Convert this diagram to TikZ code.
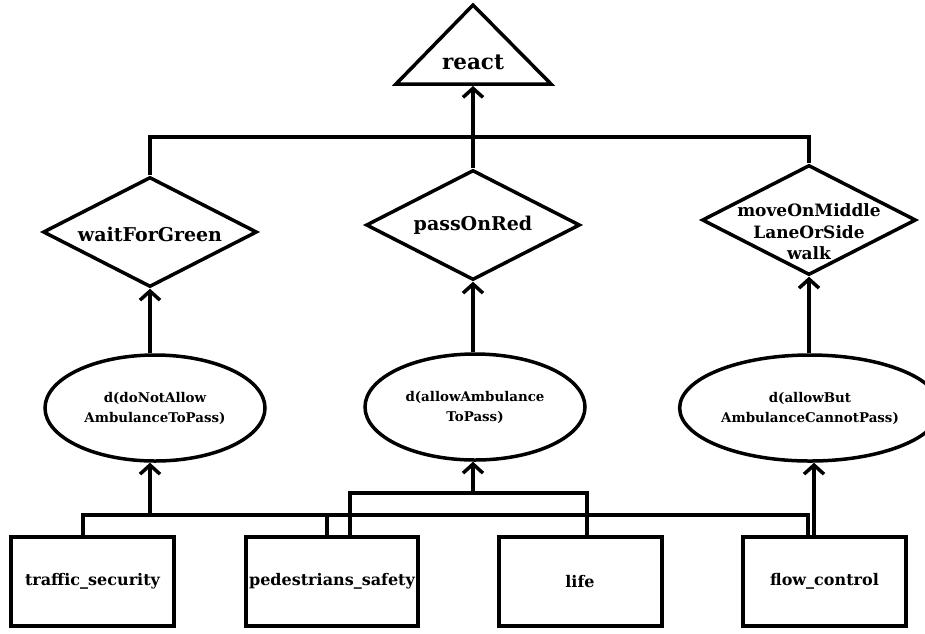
\documentclass[tikz,border=0pt]{standalone}
\usepackage{fontspec}
\setmainfont{DejaVu Serif}
\usetikzlibrary{shapes.geometric,arrows.meta}

\tikzset{
  link/.style={line width=3.5pt},
  arr/.style={line width=3.5pt,-{Straight Barb[length=9pt,width=20pt]}},
  goal/.style={draw,line width=3.5pt,diamond,minimum width=214pt,minimum height=110pt,inner sep=0pt},
  goaltext/.style={align=center,inner sep=0pt,font=\bfseries\fontsize{19}{22}\selectfont},
  desire/.style={draw,line width=3.5pt,ellipse,minimum width=220pt,minimum height=106pt,align=center,font=\bfseries\fontsize{13.4}{20}\selectfont},
  belief/.style={draw,line width=4pt,rectangle,minimum width=163pt,minimum height=89pt,font=\bfseries\fontsize{16}{19}\selectfont},
}

\begin{document}
\begin{tikzpicture}[x=1pt,y=-1pt]
    \useasboundingbox (0,0) rectangle (925,633);
    % top: react
    \draw[line width=3.5pt] (473,5) -- (551,84) -- (396,84) -- cycle;
    \node[font=\bfseries\fontsize{21.5}{24}\selectfont,inner sep=0pt] (react) at (473,62) {react};
    \coordinate (reactbase) at (473,86);
    % goals
    \node[goal] (wait) at (150,232) {};
    \node[goaltext] (waittxt) at ([yshift=-2pt]wait.center) {waitForGreen};
    \node[goal] (pass) at (473,225) {};
    \node[goaltext] (passtxt) at (pass) {passOnRed};
    \node[goal] (move) at (809,220) {};
    \node[goaltext,font=\bfseries\fontsize{17}{21.5}\selectfont] (movetxt) at ([yshift=-12pt]move.center) {moveOnMiddle\\LaneOrSide\\walk};
    % desires
    \node[desire] (notallow) at (155,408) {d(doNotAllow\\AmbulanceToPass)};
    \node[desire] (allow) at (475,407) {d(allowAmbulance\\ToPass)};
    \node[desire] (cannot) at (810,408) {d(allowBut\\AmbulanceCannotPass)};
    % beliefs
    \node[belief] (traffic) at (92.5,581.5) {traffic\_security};
    \node[belief] (peds) at (332,581.5) {pedestrians\_safety};
    \node[belief] (life) at (580,581.5) {life};
    \node[belief] (flow) at (824.5,581.5) {flow\_control};
    % goals up to react
    \coordinate (topbus) at (473,137);
    \draw[link] (wait.north) |- (topbus) -| (move.north);
    \draw[arr] (pass.north) -- (reactbase);
    % desires up to goals
    \draw[arr] (notallow.north -| wait.south) -- (wait.south);
    \draw[arr] (allow.north -| pass.south) -- (pass.south);
    \draw[arr] (cannot.north -| move.south) -- (move.south);
    % beliefs up to desires
    \coordinate (busA) at (150,515);
    \draw[link] ([xshift=-9.5pt]traffic.north) |- ([xshift=-16.5pt]flow.north |- busA) -- ([xshift=-16.5pt]flow.north);
    \draw[link] ([xshift=-5pt]peds.north) -- ([xshift=-5pt]peds.north |- busA);
    \draw[arr] (busA) -- (busA |- notallow.south);
    \coordinate (busB) at (473,493);
    \draw[link] ([xshift=18pt]peds.north) |- ([xshift=7pt]life.north |- busB) -- ([xshift=7pt]life.north);
    \draw[arr] (busB) -- (busB |- allow.south);
    \draw[arr] ([xshift=-10.5pt]flow.north) -- ([xshift=-10.5pt]flow.north |- cannot.south);
\end{tikzpicture}
\end{document}
